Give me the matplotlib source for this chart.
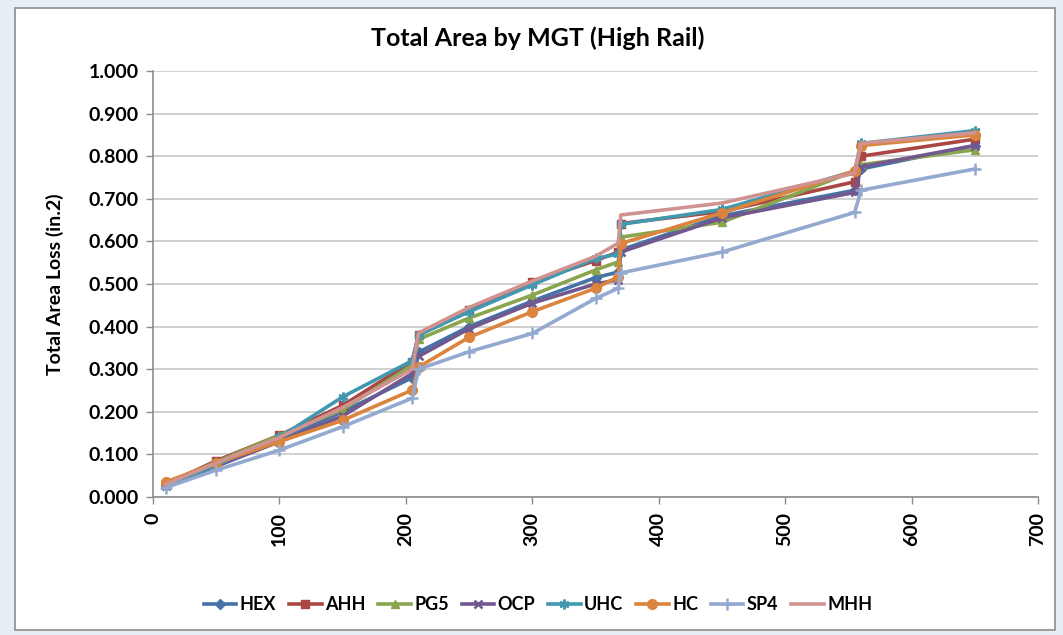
import matplotlib
matplotlib.use("Agg")
import matplotlib.pyplot as plt
from matplotlib.patches import Rectangle

plt.rcParams['font.family'] = ['Lato', 'DejaVu Sans']

mgt = [10, 50, 100, 150, 205, 210, 250, 300, 350, 368, 370, 450, 555, 560, 650]

hex_v = [0.028, 0.075, 0.135, 0.200, 0.280, 0.340, 0.400, 0.460, 0.515, 0.528, 0.580, 0.660, 0.720, 0.770, 0.825]
ahh_v = [0.030, 0.085, 0.145, 0.215, 0.318, 0.380, 0.440, 0.505, 0.555, 0.575, 0.642, 0.670, 0.740, 0.800, 0.840]
pg5_v = [0.032, 0.082, 0.145, 0.205, 0.310, 0.370, 0.420, 0.474, 0.533, 0.552, 0.610, 0.645, 0.765, 0.780, 0.815]
ocp_v = [0.025, 0.072, 0.130, 0.190, 0.290, 0.330, 0.395, 0.455, 0.500, 0.510, 0.575, 0.655, 0.715, 0.775, 0.825]
uhc_v = [0.027, 0.075, 0.140, 0.235, 0.320, 0.380, 0.435, 0.498, 0.560, 0.570, 0.640, 0.675, 0.765, 0.830, 0.860]
hc_v  = [0.035, 0.080, 0.130, 0.180, 0.251, 0.305, 0.375, 0.435, 0.490, 0.517, 0.595, 0.667, 0.765, 0.825, 0.850]
sp4_v = [0.022, 0.063, 0.110, 0.165, 0.232, 0.300, 0.341, 0.384, 0.466, 0.490, 0.526, 0.575, 0.668, 0.720, 0.770]
mhh_v = [0.030, 0.080, 0.140, 0.210, 0.300, 0.385, 0.445, 0.507, 0.565, 0.596, 0.662, 0.690, 0.760, 0.830, 0.855]

names = ["HEX", "AHH", "PG5", "OCP", "UHC", "HC", "SP4", "MHH"]
values = [hex_v, ahh_v, pg5_v, ocp_v, uhc_v, hc_v, sp4_v, mhh_v]
colors = ["#4572A7", "#AA4643", "#89A54E", "#71588F", "#4198AF", "#DB843D", "#93A9CF", "#D19392"]
markers = ["D", "s", "^", "x", (6, 2, 0), "o", "+", None]
msizes = [5, 6, 6, 6, 7, 7, 8, 0]

W, H = 1063, 635
fig = plt.figure(figsize=(W / 100, H / 100), dpi=100)
fig.patch.set_facecolor("#e6eff6")
fig.patches.append(Rectangle((15 / W, 5 / H), 1040 / W, 622 / H, transform=fig.transFigure,
                             facecolor="white", edgecolor="#8c8c8c", linewidth=1.2, zorder=-10))

ax = fig.add_axes([153 / W, 1 - 497 / H, (1038 - 153) / W, (497 - 71) / H])
ax.set_zorder(5)
ax.patch.set_alpha(0)

for name, vals, c, m, ms in zip(names, values, colors, markers, msizes):
    ax.plot(mgt, vals, color=c, linewidth=2.6, marker=m, markersize=ms,
            markeredgewidth=1.8 if m in ("x", "+", (6, 2, 0)) else 1.0,
            markerfacecolor=c, markeredgecolor=c, label=name, zorder=3)

ax.set_xlim(0, 700)
ax.set_ylim(0, 1.0)
ax.set_xticks(range(0, 701, 100))
ax.set_yticks([i / 10 for i in range(11)])
ax.set_yticklabels([f"{i / 10:.3f}" for i in range(11)], fontsize=14, fontweight="bold")
ax.set_xticklabels([str(v) for v in range(0, 701, 100)], fontsize=14, fontweight="bold", rotation=90)
ax.grid(axis="y", color="#c8c8c8", linewidth=1.2)
ax.set_axisbelow(True)
for s in ["top", "right"]:
    ax.spines[s].set_visible(False)
for s in ["left", "bottom"]:
    ax.spines[s].set_color("#8c8c8c")
    ax.spines[s].set_linewidth(1.2)
ax.tick_params(axis="both", color="#8c8c8c", length=5, width=1)
ax.tick_params(axis="x", pad=6)
ax.tick_params(axis="y", pad=5)

ax.set_ylabel("Total Area Loss (in.2)", fontsize=14, fontweight="bold", labelpad=18)
fig.text(538 / W, 1 - 38 / H, "Total Area by MGT (High Rail)", ha="center", va="center",
         fontsize=18, fontweight="bold")

fig.legend(loc="center", bbox_to_anchor=(538 / W, 1 - 605 / H), ncol=8, frameon=False,
           prop={"weight": "bold", "size": 13}, handlelength=1.8,
           columnspacing=0.7, handletextpad=0.2)

fig.savefig("out.png", dpi=100, facecolor=fig.get_facecolor())
